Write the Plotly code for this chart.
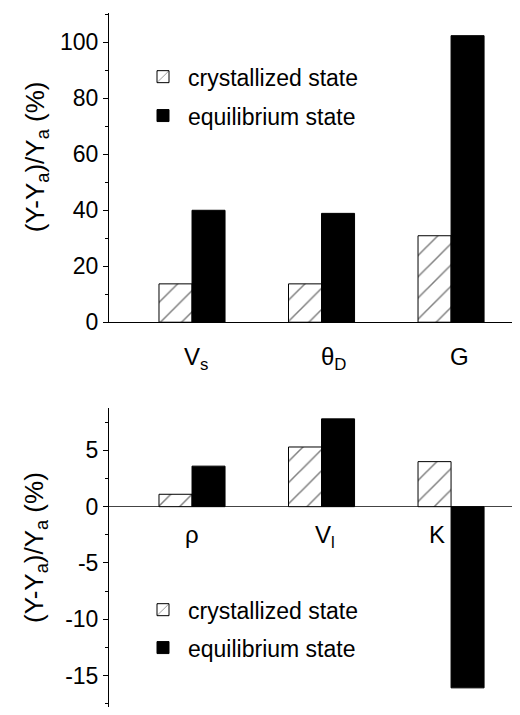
import plotly.graph_objects as go

# ---- data ----
top_categories = ["V<sub>s</sub>", "θ<sub>D</sub>", "G"]
top_crystallized = [13.7, 13.7, 30.9]
top_equilibrium = [40.0, 38.9, 102.4]

bottom_categories = ["ρ", "V<sub>l</sub>", "K"]
bottom_crystallized = [1.1, 5.3, 4.0]
bottom_equilibrium = [3.6, 7.8, -16.1]

series_names = ["crystallized state", "equilibrium state"]
top_yticks = [0, 20, 40, 60, 80, 100]
top_yticklabels = ["0", "20", "40", "60", "80", "100"]
bottom_yticks = [-15, -10, -5, 0, 5]
bottom_yticklabels = ["-15", "-10", "-5", "0", "5"]

# ---- style ----
FONT = "Arial, Liberation Sans, sans-serif"
W, H = 520, 715
ML, MR, MT, MB = 101, 3, 5, 3
top_label_xshift = [4, 12, 8]
bottom_label_xshift = [0, 3, -14]

fig = go.Figure()

xs_top = list(range(len(top_categories)))
xs_bot = list(range(len(bottom_categories)))

hatch = dict(shape="/", fgcolor="black", bgcolor="white", size=15, solidity=0.1)

fig.add_trace(go.Bar(x=xs_top, y=top_crystallized, name=series_names[0],
                     marker=dict(color="white", pattern=hatch, line=dict(color="black", width=1)),
                     xaxis="x", yaxis="y", legend="legend", legendgroup="a"))
fig.add_trace(go.Bar(x=xs_top, y=top_equilibrium, name=series_names[1],
                     marker=dict(color="black", line=dict(color="black", width=1)),
                     xaxis="x", yaxis="y", legend="legend", legendgroup="b"))
fig.add_trace(go.Bar(x=xs_bot, y=bottom_crystallized, name=series_names[0],
                     marker=dict(color="white", pattern=hatch, line=dict(color="black", width=1)),
                     xaxis="x2", yaxis="y2", legend="legend2", legendgroup="c"))
fig.add_trace(go.Bar(x=xs_bot, y=bottom_equilibrium, name=series_names[1],
                     marker=dict(color="black", line=dict(color="black", width=1)),
                     xaxis="x2", yaxis="y2", legend="legend2", legendgroup="d"))

ph = H - MT - MB
pw = W - ML - MR
def py(pix):
    return (H - MB - pix) / ph
def px(pix):
    return (pix - ML) / pw

xrange = [-0.641, 2.571]
tickfont = dict(family=FONT, size=23, color="black")

common_y = dict(showline=True, linecolor="black", linewidth=1, ticks="outside", ticklen=5,
                tickwidth=1, tickcolor="black", showgrid=False, tickfont=tickfont,
                mirror=False, zeroline=False)

legend_font = dict(family=FONT, size=23, color="black")

fig.update_layout(
    width=W, height=H,
    margin=dict(l=ML, r=MR, t=MT, b=MB),
    paper_bgcolor="white", plot_bgcolor="white",
    barmode="group", bargap=0.49, bargroupgap=0,
    font=dict(family=FONT, color="black"),
    xaxis=dict(domain=[0, 1], anchor="y", range=xrange, showticklabels=False, ticks="",
               showline=True, linecolor="black", linewidth=1, showgrid=False, zeroline=False),
    yaxis=dict(domain=[py(320), py(5)], anchor="x", range=[0, 110.5],
               tickvals=top_yticks, ticktext=top_yticklabels,
               minor=dict(ticks="outside", ticklen=3, dtick=10, tick0=0, tickcolor="black", showgrid=False),
               **common_y),
    xaxis2=dict(domain=[0, 1], anchor="y2", range=xrange, showticklabels=False, ticks="",
                showline=False, showgrid=False, zeroline=False),
    yaxis2=dict(domain=[py(712), py(407)], anchor="x2", range=[-17.8, 8.8],
                tickvals=bottom_yticks, ticktext=bottom_yticklabels,
                minor=dict(ticks="outside", ticklen=3, dtick=2.5, tick0=0, tickcolor="black", showgrid=False),
                **{**common_y, "zeroline": True, "zerolinecolor": "#444444", "zerolinewidth": 1}),
    legend=dict(x=px(130), y=py(48), xanchor="left", yanchor="top",
                font=legend_font, bgcolor="rgba(0,0,0,0)",
                tracegroupgap=6, itemwidth=40),
    legend2=dict(x=px(130), y=py(591), xanchor="left", yanchor="top",
                 font=legend_font, bgcolor="rgba(0,0,0,0)",
                 tracegroupgap=5, itemwidth=40),
    showlegend=True,
)

annotations = []
for i, lab in enumerate(top_categories):
    annotations.append(dict(x=i, y=0, xref="x", yref="y", text=lab, showarrow=False,
                            yanchor="top", yshift=-19, xshift=top_label_xshift[i],
                            font=dict(family=FONT, size=24, color="black")))
for i, lab in enumerate(bottom_categories):
    annotations.append(dict(x=i, y=0, xref="x2", yref="y2", text=lab, showarrow=False,
                            yanchor="top", yshift=-12, xshift=bottom_label_xshift[i],
                            font=dict(family=FONT, size=24, color="black")))
ytitle = "(Y-Y<sub>a</sub>)/Y<sub>a</sub> (%)"
for ycen in (152, 550):
    annotations.append(dict(x=px(28), y=py(ycen), xref="paper", yref="paper",
                            text=ytitle, textangle=-90, showarrow=False,
                            xanchor="center", yanchor="middle",
                            font=dict(family=FONT, size=26, color="black")))
fig.update_layout(annotations=annotations)

fig.write_html("out.html")
